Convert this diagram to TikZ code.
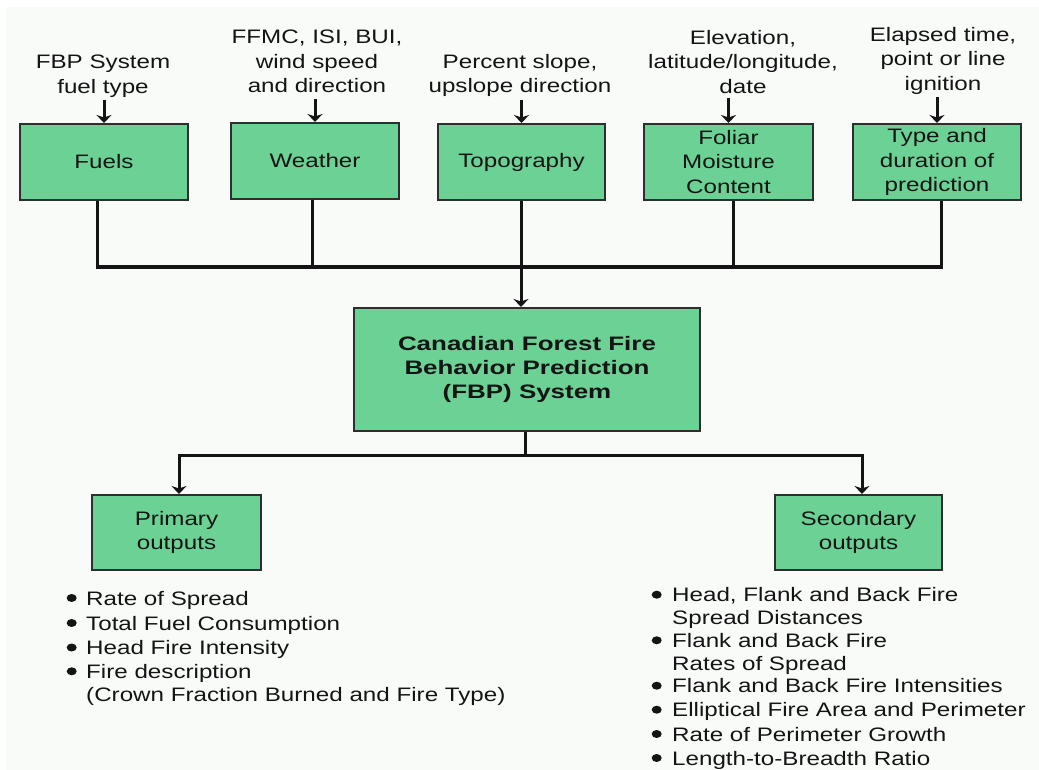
\documentclass[tikz,border=0pt]{standalone}
\usepackage{fontspec}
\setmainfont{Liberation Sans}[FakeStretch=1.24]
\newfontfamily\titlefont{Liberation Sans}[FakeStretch=1.33]
\usetikzlibrary{arrows.meta,calc}
\definecolor{boxgreen}{HTML}{6BD194}
\definecolor{edge}{HTML}{2E2E2E}
\definecolor{ink}{HTML}{141414}
\definecolor{bg}{HTML}{F9FBF9}
\begin{document}
\begin{tikzpicture}[x=1pt,y=-1pt,
  every node/.style={font=\fontsize{19.5}{24.4}\selectfont, text=ink, inner sep=0pt},
  box/.style={draw=edge, line width=2pt, fill=boxgreen, align=center, minimum width=168pt, minimum height=76pt},
  lab/.style={align=center, anchor=north},
  wire/.style={draw=ink, line width=3pt},
  arr/.style={wire, -{Stealth[length=8pt,width=15pt,inset=2.5pt]}},
  item/.style={anchor=base west},
  bullet/.style={fill=ink}]
\useasboundingbox (0,0) rectangle (1039,770);
\fill[white] (0,0) rectangle (1039,770);
\fill[bg] (6,7) rectangle (1039,770);

% input boxes
\node[box] (fuels) at (104,162) {Fuels};
\node[box] (weather) at (315,161) {Weather};
\node[box, minimum width=167pt] (topo) at (521.5,162) {Topography};
\node[box, minimum width=169pt] (foliar) at (728.5,162) {Foliar\\Moisture\\Content};
\node[box] (type) at (937,162) {Type and\\duration of\\prediction};

% central box
\node[box, minimum width=346pt, minimum height=123pt,
      font=\titlefont\bfseries\fontsize{19.5}{24.4}\selectfont] (fbp) at (527,369.5)
  {Canadian Forest Fire\\Behavior Prediction\\(FBP) System};

% output boxes
\node[box, minimum width=169pt, minimum height=75pt] (primary) at (176.5,532.5) {Primary\\outputs};
\node[box, minimum width=167pt, minimum height=75pt] (secondary) at (858.5,532.5) {Secondary\\outputs};

% input labels
\node[lab] (fuelsin) at (103,55) {FBP System\\fuel type};
\node[lab] (weatherin) at (317,30) {FFMC, ISI, BUI,\\wind speed\\and direction};
\node[lab] (topoin) at (520,54) {Percent slope,\\upslope direction};
\node[lab] (foliarin) at (743,30) {Elevation,\\latitude/longitude,\\date};
\node[lab] (typein) at (943,27) {Elapsed time,\\point or line\\ignition};

% label arrows
\draw[arr] ($(fuelsin.south -| fuels.north)+(0,3)$) -- (fuels.north);
\draw[arr] ($(weatherin.south -| weather.north)+(0,6)$) -- (weather.north);
\draw[arr] ($(topoin.south -| topo.north)+(0,3)$) -- (topo.north);
\draw[arr] ($(foliarin.south -| foliar.north)+(0,4)$) -- (foliar.north);
\draw[arr] ($(typein.south -| type.north)+(0,3)$) -- (type.north);

% collecting bus
\coordinate (hub) at (521,267);
\draw[wire] ($(fuels.south)+(-7,0)$) |- (hub);
\draw[wire] ($(weather.south)+(-3,0)$) |- (hub);
\draw[wire] (topo.south -| hub) -- (hub);
\draw[wire] ($(foliar.south)+(4.5,0)$) |- (hub);
\draw[wire] ($(type.south)+(4,0)$) |- (hub);
\draw[arr] (hub) -- (hub |- fbp.north);

% split to outputs
\coordinate (split) at (525,455);
\draw[wire] (fbp.south -| split) -- (split);
\draw[arr] (split) -| ($(primary.north)+(2.5,0)$);
\draw[arr] (split) -| ($(secondary.north)+(3.5,0)$);

% primary list
\node[item] (p1) at (86,605) {Rate of Spread};
\node[item] (p2) at (86,630) {Total Fuel Consumption};
\node[item] (p3) at (86,654.5) {Head Fire Intensity};
\node[item] (p4) at (86,678.3) {Fire description};
\node[item] (p5) at (86,701.7) {(Crown Fraction Burned and Fire Type)};
\foreach \yy in {598,623,647.5,671.3}
  \fill[bullet] (71.7,\yy) ellipse [x radius=5pt, y radius=4pt];

% secondary list
\node[item] (s1) at (672,601.7) {Head, Flank and Back Fire};
\node[item] (s2) at (672,624) {Spread Distances};
\node[item] (s3) at (672,647.3) {Flank and Back Fire};
\node[item] (s4) at (672,670) {Rates of Spread};
\node[item] (s5) at (672,692.7) {Flank and Back Fire Intensities};
\node[item] (s6) at (672,716.7) {Elliptical Fire Area and Perimeter};
\node[item] (s7) at (672,741) {Rate of Perimeter Growth};
\node[item] (s8) at (672,765) {Length-to-Breadth Ratio};
\foreach \yy in {594.7,640.3,685.7,709.7,734,758}
  \fill[bullet] (656.7,\yy) ellipse [x radius=5pt, y radius=4pt];
\end{tikzpicture}
\end{document}
